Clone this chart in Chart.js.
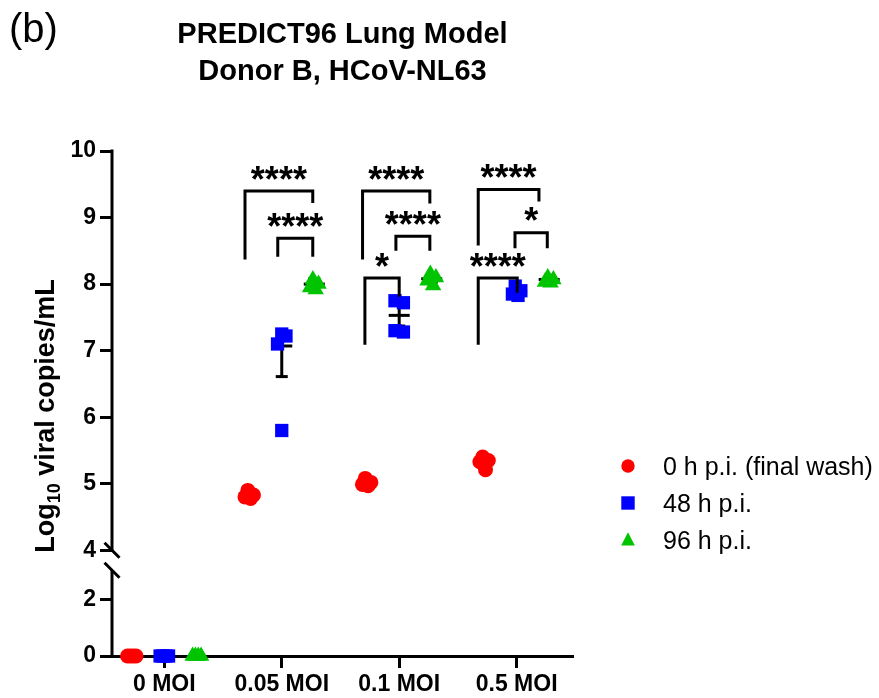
<!DOCTYPE html>
<html><head><meta charset="utf-8">
<script src="https://cdn.jsdelivr.net/npm/chart.js@4/dist/chart.umd.min.js"></script>
<style>html,body{margin:0;padding:0;background:#fff;}#wrap{width:879px;height:698px;position:relative;}</style>
</head><body><div id="wrap"><canvas id="c" width="879" height="698"></canvas></div>
<script>
// ---------- data ----------
const categories = ['0 MOI', '0.05 MOI', '0.1 MOI', '0.5 MOI'];
const seriesNames = ['0 h p.i. (final wash)', '48 h p.i.', '96 h p.i.'];
const upperTicks = [4, 5, 6, 7, 8, 9, 10];
const lowerTicks = [0, 2];
// replicate values per category (log10 copies/mL)
const h0Values  = [[0, 0, 0, 0], [4.90, 4.83, 4.78, 4.80], [5.08, 5.02, 4.97, 4.99], [5.40, 5.35, 5.21, 5.33]];
const h48Values = [[0, 0, 0, 0], [7.25, 7.22, 7.10, 5.80], [7.75, 7.72, 7.30, 7.28], [7.97, 7.90, 7.85, 7.83]];
const h96Values = [[0, 0, 0, 0], [8.07, 8.00, 7.95, 7.92], [8.15, 8.10, 8.05, 7.98], [8.10, 8.07, 8.03, 8.02]];
// error bars (mean, low, high) per category as seen in the picture
const h0Mean  = [null, 4.85, 5.01, 5.33];
const h0Lo    = [null, 4.82, 4.98, 5.28];
const h0Hi    = [null, 4.88, 5.04, 5.38];
const h48Mean = [null, 7.07, 7.53, 7.89];
const h48Lo   = [null, 6.61, 7.37, 7.85];
const h48Hi   = [null, 7.20, 7.68, 7.93];
const h96Mean = [null, 8.00, 8.08, 8.07];
const h96Lo   = [null, 7.95, 8.03, 8.04];
const h96Hi   = [null, 8.08, 8.13, 8.10];
// significance brackets: category, left/right end (offset in category units), top, leg ends, label
const brackets = [
  {cat: 1, x1: -0.313, x2: 0.264, top: 9.40, l: 8.37, r: 9.22, label: '****', ly: 9.67},
  {cat: 1, x1: -0.034, x2: 0.264, top: 8.69, l: 8.41, r: 8.41, label: '****', ly: 8.96},
  {cat: 2, x1: -0.312, x2: 0.261, top: 9.40, l: 8.37, r: 9.21, label: '****', ly: 9.67},
  {cat: 2, x1: -0.028, x2: 0.261, top: 8.72, l: 8.50, r: 8.50, label: '****', ly: 8.99},
  {cat: 2, x1: -0.292, x2: 0.000, top: 8.09, l: 7.09, r: 7.81, label: '*', ly: 8.36},
  {cat: 3, x1: -0.327, x2: 0.190, top: 9.42, l: 8.58, r: 9.24, label: '****', ly: 9.70},
  {cat: 3, x1: -0.014, x2: 0.261, top: 8.77, l: 8.54, r: 8.54, label: '*', ly: 9.05},
  {cat: 3, x1: -0.327, x2: 0.005, top: 8.09, l: 7.09, r: 7.87, label: '****', ly: 8.36}
];

// ---------- styling ----------
const FONT = "'Liberation Sans', Arial, Helvetica, sans-serif";
const BREAK_LOW = 4;          // upper segment starts here
const LOWER_MAX = 3.06;       // lower segment top
const UPPER_MIN = 3.70;       // includes gap for the break
const seriesStyle = [
  {color: '#FF0000', style: 'circle', radius: 7.5},
  {color: '#0000FF', style: 'rect', radius: 9.4},
  {color: '#00C400', style: 'triangle', radius: 9.5}
];
const seriesOffset = [-0.277, 0, 0.277];
const allValues = [h0Values, h48Values, h96Values];
const allMean = [h0Mean, h48Mean, h96Mean];
const allLo = [h0Lo, h48Lo, h96Lo];
const allHi = [h0Hi, h48Hi, h96Hi];

// horizontal spread patterns for overlapping replicates (multiples of one step)
const spreadPatterns = {1: [0], 2: [-1, 1], 3: [0, 1, -1], 4: [-0.33, 1, -1, 0.33]};
function jitter(vals) {
  const step = 0.036;
  const idx = vals.map((v, i) => i).sort((a, b) => vals[b] - vals[a]);
  const dx = new Array(vals.length).fill(0);
  let cluster = [idx[0]];
  const flush = () => {
    const pat = spreadPatterns[cluster.length] || cluster.map(() => 0);
    cluster.forEach((k, j) => { dx[k] = pat[j] * step; });
  };
  for (let i = 1; i < idx.length; i++) {
    if (Math.abs(vals[idx[i]] - vals[cluster[cluster.length - 1]]) < 0.16) cluster.push(idx[i]);
    else { flush(); cluster = [idx[i]]; }
  }
  flush();
  return dx;
}

const datasets = [];
allValues.forEach((groups, s) => {
  const upper = [], lower = [];
  groups.forEach((vals, c) => {
    const dx = jitter(vals);
    vals.forEach((v, k) => {
      const p = {x: c + seriesOffset[s] + dx[k], y: v};
      (v >= BREAK_LOW ? upper : lower).push(p);
    });
  });
  const st = seriesStyle[s];
  const base = {pointStyle: st.style, pointRadius: st.radius, pointHoverRadius: st.radius,
    backgroundColor: st.color, borderColor: st.color, borderWidth: 0, clip: false, showLine: false};
  datasets.push(Object.assign({label: seriesNames[s], data: upper, yAxisID: 'y'}, base));
  datasets.push(Object.assign({label: seriesNames[s], data: lower, yAxisID: 'y2'}, base));
});

const decorations = {
  id: 'decorations',
  beforeDatasetsDraw(chart) {
    const ctx = chart.ctx, x = chart.scales.x, yU = chart.scales.y, yL = chart.scales.y2;
    ctx.save();
    ctx.strokeStyle = '#000'; ctx.lineWidth = 3; ctx.lineCap = 'butt';
    const ax = chart.chartArea.left;
    ctx.beginPath(); ctx.moveTo(ax, yU.getPixelForValue(10) - 1.5); ctx.lineTo(ax, yU.getPixelForValue(BREAK_LOW)); ctx.stroke();
    ctx.beginPath(); ctx.moveTo(ax, yL.getPixelForValue(LOWER_MAX)); ctx.lineTo(ax, yL.getPixelForValue(0) + 1.5); ctx.stroke();
    [yU.getPixelForValue(BREAK_LOW), yL.getPixelForValue(LOWER_MAX)].forEach(py => {
      ctx.beginPath(); ctx.moveTo(ax - 7.5, py - 7.5); ctx.lineTo(ax + 7.5, py + 7.5); ctx.stroke();
    });
    allMean.forEach((means, s) => {
      means.forEach((m, c) => {
        if (m == null) return;
        const cx = x.getPixelForValue(c + seriesOffset[s]);
        const pm = yU.getPixelForValue(m), plo = yU.getPixelForValue(allLo[s][c]), phi = yU.getPixelForValue(allHi[s][c]);
        ctx.beginPath(); ctx.moveTo(cx, phi); ctx.lineTo(cx, plo); ctx.stroke();
        ctx.beginPath(); ctx.moveTo(cx - 6, phi); ctx.lineTo(cx + 6, phi); ctx.stroke();
        ctx.beginPath(); ctx.moveTo(cx - 6, plo); ctx.lineTo(cx + 6, plo); ctx.stroke();
        ctx.beginPath(); ctx.moveTo(cx - 10.5, pm); ctx.lineTo(cx + 10.5, pm); ctx.stroke();
      });
    });
    ctx.restore();
  },
  afterDatasetsDraw(chart) {
    const ctx = chart.ctx, x = chart.scales.x, yU = chart.scales.y;
    ctx.save();
    ctx.strokeStyle = '#000'; ctx.fillStyle = '#000'; ctx.lineWidth = 3; ctx.lineJoin = 'miter'; ctx.lineCap = 'butt';
    ctx.font = 'bold 36px ' + FONT;
    const m = ctx.measureText('*');
    const starShift = (m.actualBoundingBoxAscent - m.actualBoundingBoxDescent) / 2;
    brackets.forEach(b => {
      const x1 = x.getPixelForValue(b.cat + b.x1), x2 = x.getPixelForValue(b.cat + b.x2);
      const t = yU.getPixelForValue(b.top);
      ctx.beginPath();
      ctx.moveTo(x1, yU.getPixelForValue(b.l));
      ctx.lineTo(x1, t); ctx.lineTo(x2, t);
      ctx.lineTo(x2, yU.getPixelForValue(b.r));
      ctx.stroke();
      ctx.textAlign = 'center'; ctx.textBaseline = 'alphabetic';
      ctx.fillText(b.label, (x1 + x2) / 2, yU.getPixelForValue(b.ly) + starShift);
    });
    ctx.restore();
  },
  afterDraw(chart) {
    const ctx = chart.ctx, ca = chart.chartArea;
    ctx.save();
    ctx.fillStyle = '#000';
    ctx.font = '40px ' + FONT; ctx.textAlign = 'left'; ctx.textBaseline = 'middle';
    ctx.fillText('(b)', 9, 31);
    ctx.font = 'bold 29px ' + FONT; ctx.textAlign = 'center'; ctx.textBaseline = 'middle';
    const cx = (ca.left + ca.right) / 2;
    ctx.fillText('PREDICT96 Lung Model', cx, 35);
    ctx.fillText('Donor B, HCoV-NL63', cx, 72);
    ctx.translate(45, 416); ctx.rotate(-Math.PI / 2);
    const big = 'bold 27px ' + FONT, small = 'bold 18px ' + FONT;
    const parts = [['Log', big, 0], ['10', small, 6], [' viral copies/mL', big, 0]];
    let total = 0;
    parts.forEach(p => { ctx.font = p[1]; total += ctx.measureText(p[0]).width; });
    let px = -total / 2;
    ctx.textAlign = 'left'; ctx.textBaseline = 'alphabetic';
    parts.forEach(p => { ctx.font = p[1]; ctx.fillText(p[0], px, 9 + p[2]); px += ctx.measureText(p[0]).width; });
    ctx.setTransform(1, 0, 0, 1, 0, 0);
    const lx = 628, ly = [466, 503, 540];
    seriesNames.forEach((name, i) => {
      const st = seriesStyle[i], y = ly[i];
      ctx.fillStyle = st.color;
      ctx.beginPath();
      if (st.style === 'circle') ctx.arc(lx, y, 6.7, 0, Math.PI * 2);
      else if (st.style === 'rect') ctx.rect(lx - 6.7, y - 6.7, 13.4, 13.4);
      else { ctx.moveTo(lx, y - 7.7); ctx.lineTo(lx + 6.8, y + 5.6); ctx.lineTo(lx - 6.8, y + 5.6); ctx.closePath(); }
      ctx.fill();
      ctx.fillStyle = '#000';
      ctx.font = '25px ' + FONT; ctx.textAlign = 'left'; ctx.textBaseline = 'alphabetic';
      ctx.fillText(name, 663, y + 9);
    });
    ctx.restore();
  }
};

const tickFont = {family: FONT, size: 23, weight: 'bold'};
new Chart(document.getElementById('c'), {
  type: 'scatter',
  data: {datasets},
  options: {
    responsive: false, animation: false, events: [],
    layout: {padding: {top: 151, right: 306, left: 0, bottom: 0}},
    plugins: {legend: {display: false}, tooltip: {enabled: false}, title: {display: false}},
    scales: {
      x: {
        type: 'linear', min: -0.4455, max: 3.48,
        afterBuildTicks: s => { s.ticks = categories.map((_, i) => ({value: i})); },
        ticks: {callback: v => categories[v], font: tickFont, color: '#000', padding: 3, autoSkip: false, maxRotation: 0},
        grid: {drawOnChartArea: false, tickLength: 12, tickWidth: 3, tickColor: '#000', color: '#000'},
        border: {display: true, width: 3, color: '#000'},
        afterFit: s => { s.height = 42; }
      },
      y: {
        type: 'linear', position: 'left', stack: 'v', stackWeight: 419, weight: 2, min: UPPER_MIN, max: 10,
        afterBuildTicks: s => { s.ticks = upperTicks.map(v => ({value: v})); },
        ticks: {font: tickFont, color: '#000', padding: 4},
        grid: {drawOnChartArea: false, tickLength: 12, tickWidth: 3, tickColor: '#000', color: '#000'},
        border: {display: false},
        afterFit: s => { s.width = 112; }
      },
      y2: {
        type: 'linear', position: 'left', stack: 'v', stackWeight: 85.7, weight: 1, min: 0, max: LOWER_MAX,
        afterBuildTicks: s => { s.ticks = lowerTicks.map(v => ({value: v})); },
        ticks: {font: tickFont, color: '#000', padding: 4},
        grid: {drawOnChartArea: false, tickLength: 12, tickWidth: 3, tickColor: '#000', color: '#000'},
        border: {display: false},
        afterFit: s => { s.width = 112; }
      }
    }
  },
  plugins: [decorations]
});
</script></body></html>
